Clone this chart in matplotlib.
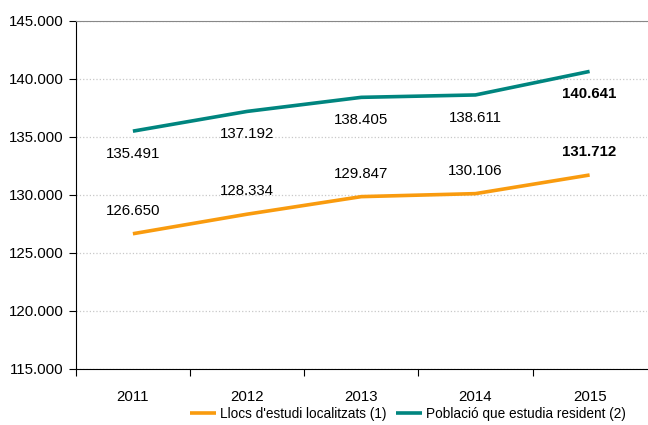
import matplotlib.pyplot as plt
from matplotlib.ticker import FuncFormatter, MultipleLocator

plt.rcParams['font.family'] = ['Liberation Sans', 'DejaVu Sans']

# data
years = ['2011', '2012', '2013', '2014', '2015']
llocs = [126650, 128334, 129847, 130106, 131712]
poblacio = [135491, 137192, 138405, 138611, 140641]

orange = '#F99B0E'
teal = '#00857F'


def dot_fmt(v, pos=None):
    return f'{int(round(v)):,}'.replace(',', '.')


fig = plt.figure(figsize=(6.48, 4.25), dpi=100)
ax = fig.add_axes([0.117, 0.132, 0.881, 0.819])

x = list(range(len(years)))
ax.plot(x, llocs, color=orange, lw=2.6, solid_capstyle='butt',
        label="Llocs d'estudi localitzats (1)")
ax.plot(x, poblacio, color=teal, lw=2.6, solid_capstyle='butt',
        label='Població que estudia resident (2)')

# value labels: orange above, teal below, last year bold
for i in x:
    w = 'bold' if i == len(x) - 1 else 'normal'
    ax.annotate(dot_fmt(llocs[i]), (i, llocs[i]), xytext=(0, 16.5),
                textcoords='offset points', ha='center', va='center',
                fontsize=10.8, fontweight=w)
    ax.annotate(dot_fmt(poblacio[i]), (i, poblacio[i]), xytext=(0, -16.5),
                textcoords='offset points', ha='center', va='center',
                fontsize=10.8, fontweight=w)

ax.set_xlim(-0.5, len(years) - 0.5)
ax.set_ylim(115000, 145000)
ax.yaxis.set_major_locator(MultipleLocator(5000))
ax.yaxis.set_major_formatter(FuncFormatter(dot_fmt))
ax.grid(axis='y', color='#c8c8c8', ls=':', lw=0.9)
ax.set_axisbelow(True)

# category ticks between years
ax.set_xticks([i + 0.5 for i in x[:-1]] + [-0.5])
ax.set_xticklabels([])
ax.set_xticks(x, minor=True)
ax.set_xticklabels(years, minor=True)
ax.tick_params(axis='x', which='major', length=5, direction='out', color='black')
ax.tick_params(axis='x', which='minor', length=0, pad=15, labelsize=10.8)
ax.tick_params(axis='y', length=5, labelsize=10.8, pad=4)

ax.spines['left'].set_color('black')
ax.spines['bottom'].set_color('black')
ax.spines['top'].set_color('#888888')
ax.spines['right'].set_visible(False)

fig.legend(loc='center', bbox_to_anchor=(0.63, 0.026), bbox_transform=fig.transFigure,
           ncol=2, frameon=False, fontsize=9.8, handlelength=1.9,
           handletextpad=0.3, columnspacing=0.7, borderaxespad=0, borderpad=0)

fig.savefig('out.png', dpi=100)
